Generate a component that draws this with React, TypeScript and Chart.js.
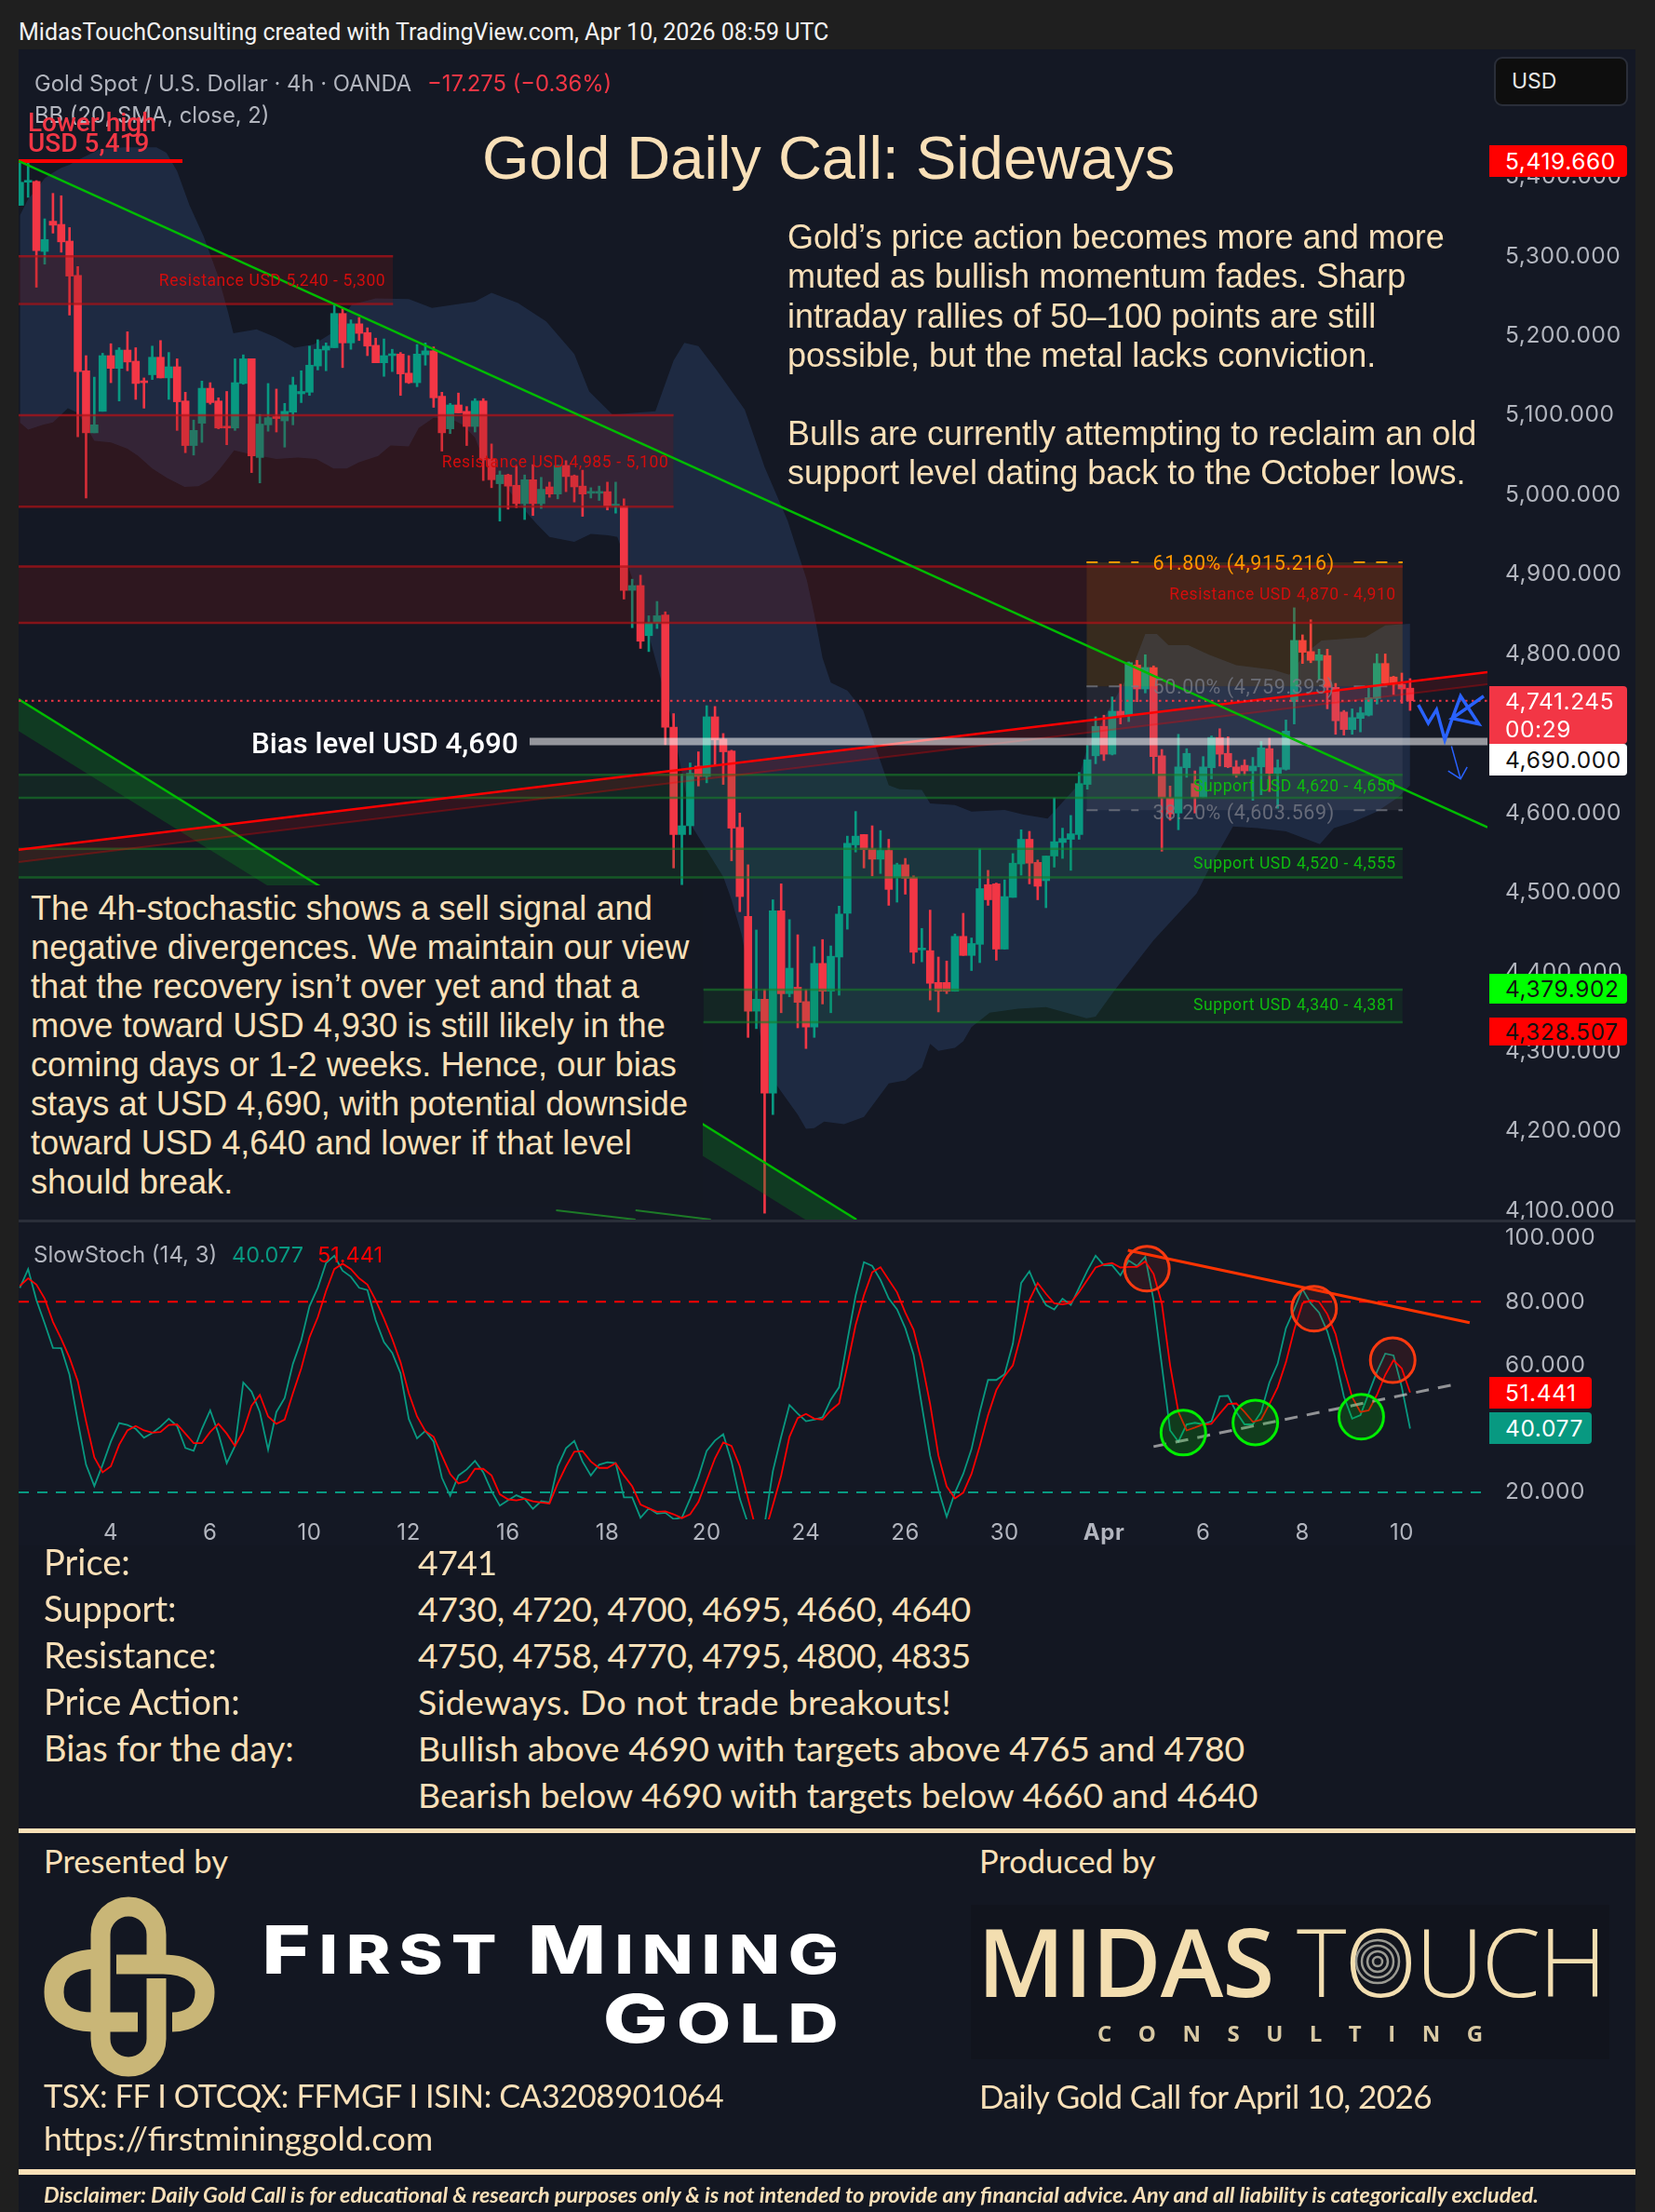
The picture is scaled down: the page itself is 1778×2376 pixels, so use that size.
import React, { useEffect, useRef } from "react";
import { Chart, registerables } from "chart.js";
Chart.register(...registerables);

// ---------- candles (4h Gold spot) ----------
const opens = [5364,5393,5394,5306,5344,5340,5319,5276,5156,5078,5105,5175,5159,5182,5168,5142,5151,5173,5147,5161,5118,5062,5090,5134,5118,5086,5084,5140,5171,5047,5088,5098,5093,5104,5127,5129,5162,5182,5185,5228,5191,5215,5204,5188,5166,5175,5177,5153,5141,5176,5181,5124,5083,5113,5105,5086,5118,5045,5014,5025,5012,4989,5019,4989,5010,5001,5037,5024,5011,5002,5002,5004,4986,4986,4880,4886,4823,4839,4849,4708,4573,4584,4659,4646,4721,4693,4678,4582,4470,4351,4366,4248,4477,4373,4381,4363,4331,4411,4376,4419,4474,4560,4573,4555,4542,4553,4519,4535,4519,4428,4427,4387,4387,4376,4445,4421,4435,4510,4511,4429,4494,4536,4567,4538,4515,4546,4563,4567,4573,4636,4672,4709,4674,4728,4723,4786,4756,4783,4672,4619,4600,4657,4637,4620,4657,4695,4675,4658,4660,4653,4658,4681,4650,4655,4740,4817,4803,4792,4798,4758,4727,4705,4719,4723,4744,4788,4771,4762,4757];
const closes = [5393,5395,5307,5321,5339,5318,5275,5155,5078,5088,5175,5159,5182,5167,5140,5141,5173,5147,5161,5117,5062,5081,5134,5116,5084,5084,5141,5171,5049,5089,5097,5096,5105,5138,5130,5163,5183,5187,5228,5191,5215,5203,5187,5166,5175,5177,5152,5141,5177,5181,5122,5078,5113,5103,5086,5118,5044,5019,5025,5011,4989,5019,4989,5007,5001,5037,5023,5010,5001,5004,5004,4986,4988,4880,4886,4816,4839,4848,4708,4573,4584,4650,4646,4721,4692,4677,4581,4495,4351,4366,4248,4477,4373,4405,4362,4331,4411,4376,4420,4473,4562,4571,4554,4542,4553,4504,4535,4518,4425,4429,4386,4376,4376,4445,4421,4436,4505,4491,4429,4495,4537,4567,4537,4508,4546,4564,4568,4574,4637,4667,4709,4674,4728,4722,4789,4756,4783,4671,4619,4599,4658,4675,4620,4658,4695,4674,4658,4648,4653,4659,4682,4650,4657,4703,4817,4802,4792,4799,4758,4716,4705,4720,4726,4745,4788,4763,4762,4756,4741.245];
const highs = [5419,5417,5395,5347,5379,5376,5336,5287,5175,5148,5178,5190,5185,5205,5185,5147,5187,5194,5179,5171,5129,5094,5143,5141,5122,5130,5171,5176,5171,5101,5140,5133,5115,5148,5156,5187,5195,5191,5239,5235,5220,5223,5210,5197,5196,5183,5179,5175,5189,5191,5186,5129,5115,5128,5111,5121,5121,5064,5030,5026,5036,5025,5038,5022,5016,5037,5043,5025,5031,5009,5011,5016,5016,4995,4894,4899,4848,4866,4853,4725,4649,4663,4677,4735,4734,4700,4679,4600,4535,4453,4378,4491,4511,4466,4447,4378,4432,4441,4433,4483,4571,4602,4573,4584,4578,4567,4537,4543,4521,4455,4478,4419,4414,4448,4474,4443,4555,4528,4512,4516,4549,4579,4577,4541,4546,4619,4581,4597,4651,4685,4721,4723,4746,4762,4790,4792,4799,4785,4680,4634,4699,4681,4653,4671,4697,4706,4696,4666,4667,4670,4690,4694,4667,4717,4858,4824,4843,4806,4806,4763,4729,4731,4733,4757,4800,4800,4772,4776,4769];
const lows = [5364,5374,5261,5290,5329,5305,5226,5073,4996,5078,5105,5141,5118,5156,5120,5109,5145,5147,5120,5081,5053,5050,5066,5114,5083,5063,5081,5139,5028,5015,5080,5079,5060,5088,5116,5125,5157,5156,5185,5160,5183,5194,5175,5166,5149,5155,5125,5140,5136,5163,5110,5055,5077,5103,5062,5079,5018,5009,4967,4982,4984,4969,4974,4983,4997,4995,5004,4991,4973,4996,4993,4981,4977,4869,4833,4807,4803,4832,4686,4531,4510,4573,4634,4638,4660,4636,4540,4476,4318,4329,4097,4221,4349,4369,4330,4304,4318,4360,4349,4371,4454,4551,4531,4521,4524,4484,4488,4498,4411,4413,4365,4350,4373,4376,4421,4402,4412,4484,4415,4429,4494,4522,4511,4491,4481,4532,4543,4528,4567,4630,4662,4666,4673,4712,4715,4740,4751,4649,4552,4591,4579,4645,4600,4620,4643,4659,4657,4645,4648,4616,4623,4627,4606,4654,4712,4788,4789,4768,4731,4699,4698,4699,4702,4722,4737,4761,4749,4738,4729];

// ---------- Bollinger band outline, read at irregular bars ----------
const upperBandAt = [0,1,2,3,4,5,6,7,9.6,12.5,16.5,17.7,19,20.5,22.2,24,25.2,25.8,28.6,30.9,33.2,35.5,37.8,40.1,43,47,49.8,55,57,60.2,63.6,67,68.8,71.6,76.8,79,80.3,82,84.2,87.6,90,92.8,94,95.1,96,97,98,100,101.9,103.3,105,106.3,109,110,113,115,119,121.3,124.2,127.6,129,132,134.5,136,137.4,138.8,141.2,143.7,147,151.5,153.4,155.4,157.3,162.6,165,168];
const upperBand = [5351,5372,5384,5398,5405,5411,5415,5421,5434,5437,5437,5430,5407,5364,5325,5274,5228,5203,5208,5198,5185,5189,5204,5239,5247,5246,5235,5243,5254,5241,5218,5177,5130,5101,5105,5169,5191,5187,5157,5107,5035,4967,4928,4893,4850,4795,4764,4754,4729,4686,4635,4630,4629,4612,4610,4602,4604,4598,4593,4632,4682,4737,4784,4825,4825,4811,4811,4799,4786,4780,4774,4801,4817,4821,4836,4838];
const lowerBandAt = [0,1,2.8,4,5.8,7,7.9,9,11,13,14.3,16,17.8,19.9,21.6,23,24.2,25.9,27.9,31,33.6,35.8,37.9,39.5,41,43.3,44.8,47,48.2,50,52,53.5,55,56,58,60.2,62.5,64,67,69,71.1,72.2,73,74.5,78.6,81.3,85,86,87.2,88,89.5,91.3,94,95,96,97.2,99.6,102,105,107,109,110,111,113,114,115,117.2,120.6,124,128.9,130,132.2,137,142.2,143.7,146.6,149.6,153,157.1,158.8,161.2,164,166.6,168];
const lowerBand = [5091,5082,5088,5091,5109,5103,5088,5068,5066,5058,5049,5033,5021,5010,5011,5019,5033,5056,5051,5045,5047,5045,5033,5033,5041,5049,5062,5061,5084,5097,5096,5088,5072,5045,5021,4990,4963,4947,4941,4951,4949,4947,4924,4881,4725,4582,4520,4491,4448,4405,4319,4260,4221,4203,4204,4212,4209,4218,4260,4264,4280,4310,4301,4305,4313,4331,4349,4354,4356,4342,4344,4376,4440,4499,4530,4583,4581,4577,4561,4581,4589,4602,4620,4635];

// ---------- horizontal zones ----------
const zoneStart = [-0.15,-0.15,-0.15,-0.15,-0.15,82.6];
const zoneEnd = [45.1,79,167.1,167.1,167.1,167.1];
const zoneTop = [5300,5100,4910,4648,4555,4378];
const zoneBottom = [5240,4985,4839,4619,4519,4337];
const zoneKind = ["r","r","r","g","g","g"];
const zoneLabels = ["Resistance USD 5,240 - 5,300","Resistance USD 4,985 - 5,100","Resistance USD 4,870 - 4,910","Support USD 4,620 - 4,650","Support USD 4,520 - 4,555","Support USD 4,340 - 4,381"];
const zoneLabelAt = [44.2,78.4,166.3,166.3,166.3,166.3];
const zoneLabelValue = [5268,5040,4873,4632,4535,4357];

// ---------- Fibonacci ----------
const fibStart = 128.9, fibGapA = 135.2, fibGapB = 161.2, fibEnd = 167.1;
const fibLevels = [4915.216,4759.393,4603.569];
const fibLabels = ["61.80% (4,915.216)","50.00% (4,759.393)","38.20% (4,603.569)"];
const fibLabelValue = [4912,4756,4599];
const fibLabelAt = 147.9;

// ---------- trend lines and drawings ----------
const axisLeft = -0.15, axisRight = 177.35;
const priceMin = 4087.8, priceMax = 5557.7;
const priceTicks = [4100,4200,4300,4400,4500,4600,4700,4800,4900,5000,5100,5200,5300,5400];
const mainGreen = [5419.66,4582];
const redChannelTop = [4554,4777];
const redChannelBottom = [4538.5,4762];
const leftGreenAt = [-0.15,101.1];
const leftGreenTop = [4743,4089];
const leftGreenBottom = [4703,4049];
const bottomLineAt = [[64.8,74.4],[74.4,83.5]];
const bottomLineVal = [4100.8,4089];
const biasLevel = 4690, biasStart = 61.6;
const lastPrice = 4741.245;
const lowerHigh = 5419.66, lowerHighEnd = 19.65;
const blueAt = [169,170.2,171.2,172.2,173.1,174.1,176.3,173.1,176.9];
const blueVal = [4736,4713,4730,4692,4719,4747,4712,4719,4747];
const arrowAt = [173,174.1];
const arrowVal = [4684,4643];
const arrowHeadAt = [172.6,174.1,174.9];
const arrowHeadVal = [4653,4643,4658];

// ---------- stochastic ----------
const stochK = [84.4,90.3,80.5,73.2,65.5,65.4,57,42.4,28.7,22,28.7,36,41.8,41.2,40,37.2,38.7,40.7,43.2,40.9,34,33.1,40,45.8,38.5,29.2,34.6,54.6,51.7,45.3,33.4,45.3,49.7,60.5,67.8,78.6,84.4,92.2,94.5,89.8,87.9,84.4,83.7,74.2,67.3,63.9,57.5,43.1,37,39.3,36,24.6,18.9,25.3,27.2,29.9,26.3,20.4,15.8,17.5,19.1,18,14.8,17.2,16.8,28.2,33.9,36.2,29.7,25.3,28.7,29.5,29.2,18.4,18.4,12,15,13.3,13.6,11.6,12,18,24.8,33.1,36.3,38.3,29.7,18,10.1,3.3,10,26.7,37.5,47.5,44.8,42.4,42.9,43.6,49.2,53.1,67.8,82,92.5,91.3,86.9,81,77.6,71.7,63.4,47.3,31.6,20.9,12.3,19.9,25.8,33.6,45.3,55.4,55.4,57.2,66.8,85.9,89.6,83.4,79,77.6,81,79,84.4,89.8,94.5,91.5,91.5,88.3,93,91.3,94.2,80.5,60,39.5,36,41.4,41.9,41.4,42.4,50.2,50.4,45.3,41.4,41.4,45.3,54.6,60.5,71.7,77.6,84,79.5,76.6,70.7,61.9,50.2,43.2,44.3,51.2,58,63.7,63.1,53.1,40.077];
const stochD = [85,87.4,85.4,81,73.7,68.3,62.4,55,42.4,31,26.3,28.2,35,39.5,40.9,39.5,38.8,39,41.2,41.4,38.5,35.5,35.5,39,41.6,38.5,34.6,39.3,47.3,50.7,43.9,41.6,42.9,51.2,59,68.8,75.1,83.4,90.3,92,90.3,87.4,85.4,80.5,74.7,68.3,61,51.2,43.9,39.3,37.5,31.6,25.8,22.8,23.6,27.4,27.4,25.3,19.4,17.8,17.5,18,17.2,16.8,16.5,22.8,28.2,32.8,33,29.7,27.7,27.7,29.2,25.3,21.9,16.2,15,13.9,14,13.1,11.9,13.1,17,23.8,30.7,35.7,34.6,28.2,18,8,7,16,25.3,37.5,43.4,44.7,43.2,42.9,45.8,48,60,72.7,82,89.3,90.9,86.9,83,76.6,71.2,61,47.8,31.6,21.9,18.1,19.9,25.8,34.6,44.3,52.2,56.6,60,69.8,80.5,85.9,82.5,79.5,79.2,79.7,83,86.9,90.8,91.8,92.2,90.8,91,91,92.7,88.8,79.5,60,45.3,39.5,40.4,41.4,41.6,44.8,47.8,48,45.3,42.2,42.9,47.8,53.1,61,71.2,79.5,80.5,80,76.1,69.8,59,50,45.3,45.8,50.7,57,61.6,59,51.441];
const stochMin = 11.5, stochMax = 105.3;
const stochTicks = [20,40,60,80,100];
const stochUpper = 80, stochLower = 20, stochDashEnd = 176.8;
const dateTickAt = [11,23,35,47,59,71,83,95,107,119,131,143,155,167];
const dateTickText = ["4","6","10","12","16","18","20","24","26","30","Apr","6","8","10"];
const stochRedLineAt = [133.9,175.2];
const stochRedLine = [96.2,73.4];
const stochGrayLineAt = [137,173.4];
const stochGrayLine = [34.4,54];
const redCircleAt = [136.2,156.4,165.9];
const redCircleVal = [90.4,77.8,61.6];
const greenCircleAt = [140.6,149.3,162.1];
const greenCircleVal = [38.8,42,43.8];

// ---------- page text ----------
const rightNote = ["Gold’s price action becomes more and more","muted as bullish momentum fades. Sharp","intraday rallies of 50–100 points are still","possible, but the metal lacks conviction."];
const rightNote2 = ["Bulls are currently attempting to reclaim an old","support level dating back to the October lows."];
const leftNote = ["The 4h-stochastic shows a sell signal and","negative divergences. We maintain our view","that the recovery isn’t over yet and that a","move toward USD 4,930 is still likely in the","coming days or 1-2 weeks. Hence, our bias","stays at USD 4,690, with potential downside","toward USD 4,640 and lower if that level","should break."];
const tableLabels = ["Price:","Support:","Resistance:","Price Action:","Bias for the day:",""];
const tableValues = ["4741","4730, 4720, 4700, 4695, 4660, 4640","4750, 4758, 4770, 4795, 4800, 4835","Sideways. Do not trade breakouts!","Bullish above 4690 with targets above 4765 and 4780","Bearish below 4690 with targets below 4660 and 4640"];
const tableSpacing = [-0.5,-0.5,-0.5,0.35,0,0];

const UP = "#089981", DOWN = "#F23645", GREY = "#b2b5be", CREAM = "#f9e0b8";
const AXIS_FONT = "Inter";

const line = (xs: number[], ys: number[], color: string, width: number, extra: any = {}) => ({
  type: "line", data: xs.map((x, i) => ({ x, y: ys[i] })), borderColor: color, borderWidth: width,
  pointRadius: 0, tension: 0, fill: false, order: 1, ...extra,
});

function priceDatasets() {
  const ds: any[] = [];
  ds.push(line(upperBandAt, upperBand, "rgba(0,0,0,0)", 0, { fill: "+1", backgroundColor: "rgba(88,145,243,0.15)", order: 20 }));
  ds.push(line(lowerBandAt, lowerBand, "rgba(0,0,0,0)", 0, { order: 20 }));
  const colors = closes.map((c, i) => (c >= opens[i] ? UP : DOWN));
  ds.push({ type: "bar", data: lows.map((l, i) => ({ x: i, y: [l, highs[i]] })), backgroundColor: colors, barThickness: 2, grouped: false, order: 10 });
  ds.push({ type: "bar", data: opens.map((o, i) => ({ x: i, y: [o, closes[i]] })), backgroundColor: colors, barThickness: 8, grouped: false, minBarLength: 2, order: 9 });
  zoneTop.forEach((t, i) => {
    const red = zoneKind[i] === "r";
    const edge = red ? "rgba(180,18,24,0.72)" : "rgba(24,125,40,0.62)";
    const fillC = red ? "rgba(125,20,17,0.25)" : "rgba(20,125,45,0.14)";
    const xs = [zoneStart[i], zoneEnd[i]];
    ds.push(line(xs, [t, t], edge, 2.5, { fill: "+1", backgroundColor: fillC, order: 5 }));
    ds.push(line(xs, [zoneBottom[i], zoneBottom[i]], edge, 2.5, { order: 5 }));
  });
  const fx = [fibStart, fibEnd];
  ds.push(line(fx, [fibLevels[0], fibLevels[0]], "rgba(0,0,0,0)", 0, { fill: "+1", backgroundColor: "rgba(255,152,0,0.15)", order: 6 }));
  ds.push(line(fx, [fibLevels[1], fibLevels[1]], "rgba(0,0,0,0)", 0, { fill: "+1", backgroundColor: "rgba(120,123,134,0.15)", order: 6 }));
  ds.push(line(fx, [fibLevels[2], fibLevels[2]], "rgba(0,0,0,0)", 0, { order: 6 }));
  fibLevels.forEach((v, i) => {
    const c = i === 0 ? "#ff9800" : "rgba(120,123,134,0.75)";
    ds.push(line([fibStart, fibGapA], [v, v], c, 2, { borderDash: [12, 12], order: 4 }));
    ds.push(line([fibGapB, fibEnd], [v, v], c, 2, { borderDash: [12, 12], order: 4 }));
  });
  ds.push(line([axisLeft, axisRight], redChannelTop, "#ff0000", 2.5, { fill: "+1", backgroundColor: "rgba(255,0,0,0.12)", order: 2 }));
  ds.push(line([axisLeft, axisRight], redChannelBottom, "rgba(255,0,0,0.3)", 2, { order: 2 }));
  ds.push(line(leftGreenAt, leftGreenTop, "#00bb00", 2.5, { fill: "+1", backgroundColor: "rgba(10,140,30,0.3)", order: 3 }));
  ds.push(line(leftGreenAt, leftGreenBottom, "rgba(0,0,0,0)", 0, { order: 3 }));
  bottomLineAt.forEach((xs) => ds.push(line(xs, bottomLineVal, "rgba(30,140,40,0.85)", 2, { order: 3 })));
  ds.push(line([axisLeft, axisRight], mainGreen, "#00bb00", 2.5, { order: 1 }));
  ds.push(line([axisLeft, lowerHighEnd], [lowerHigh, lowerHigh], "#ff0000", 4, { order: 1 }));
  ds.push(line([axisLeft, axisRight], [lastPrice, lastPrice], DOWN, 2, { borderDash: [2.5, 4.5], order: 1 }));
  ds.push(line([biasStart, axisRight], [biasLevel, biasLevel], "rgba(255,255,255,0.55)", 8, { order: 1 }));
  ds.push(line(blueAt, blueVal, "#2962ff", 3.5, { order: 0 }));
  ds.push(line(arrowAt, arrowVal, "#2962ff", 1.5, { order: 0 }));
  ds.push(line(arrowHeadAt, arrowHeadVal, "#2962ff", 1.5, { order: 0 }));
  return ds;
}

const axisSpacingPlugin = {
  id: "axisSpacing",
  beforeDraw(chart: any) { chart.ctx.letterSpacing = "0.6px"; },
};

const priceLabelPlugin = {
  id: "priceLabels",
  afterDatasetsDraw(chart: any) {
    const { ctx, scales: { x, y } } = chart;
    ctx.save();
    ctx.beginPath();
    ctx.rect(chart.chartArea.left, chart.chartArea.top, chart.chartArea.width, chart.chartArea.height);
    ctx.clip();
    ctx.textBaseline = "middle";
    ctx.font = "17.5px Roboto";
    ctx.letterSpacing = "0.6px";
    ctx.textAlign = "right";
    zoneLabels.forEach((t, i) => {
      ctx.fillStyle = zoneKind[i] === "r" ? "#d40d0d" : "#0fbb0f";
      ctx.fillText(t, x.getPixelForValue(zoneLabelAt[i]), y.getPixelForValue(zoneLabelValue[i]));
    });
    ctx.textAlign = "center";
    ctx.font = "21.5px Roboto";
    fibLabels.forEach((t, i) => {
      ctx.fillStyle = i === 0 ? "#ff9800" : "rgba(120,123,134,0.8)";
      ctx.fillText(t, x.getPixelForValue(fibLabelAt), y.getPixelForValue(fibLabelValue[i]));
    });
    ctx.restore();
  },
};

function stochDatasets() {
  return [
    line([axisLeft, stochDashEnd], [stochUpper, stochUpper], "#ff0000", 2, { borderDash: [11, 9], order: 5 }),
    line([axisLeft, stochDashEnd], [stochLower, stochLower], UP, 2, { borderDash: [11, 9], order: 5 }),
    line(stochK.map((_, i) => i), stochK, UP, 1.8, { order: 3 }),
    line(stochD.map((_, i) => i), stochD, "#ff0000", 1.8, { order: 2 }),
    line(stochRedLineAt, stochRedLine, "#ff3300", 3, { order: 1 }),
    line(stochGrayLineAt, stochGrayLine, "rgba(200,200,200,0.7)", 3, { borderDash: [14, 10], order: 1 }),
    { type: "bubble", data: redCircleAt.map((x, i) => ({ x, y: redCircleVal[i] })), radius: 24, borderWidth: 3, borderColor: "#ff3a10", backgroundColor: "rgba(255,40,20,0.1)", order: 0 },
    { type: "bubble", data: greenCircleAt.map((x, i) => ({ x, y: greenCircleVal[i] })), radius: 24, borderWidth: 3, borderColor: "#00f000", backgroundColor: "rgba(0,200,0,0.2)", order: 0 },
  ];
}

const fmt = (v: number) => v.toLocaleString("en-US", { minimumFractionDigits: 3, maximumFractionDigits: 3 });

function useChart(ref: any, build: () => any) {
  useEffect(() => {
    const c = new Chart(ref.current, build());
    return () => c.destroy();
  }, []);
}

const baseOptions: any = {
  responsive: false, animation: false, devicePixelRatio: 1,
  layout: { padding: 0, autoPadding: false },
  plugins: { legend: { display: false }, tooltip: { enabled: false } },
};

const T = ({ x, y, right, size, color, font, weight, italic, spacing, children }: any) => (
  <div style={{
    position: "absolute", left: x, right, top: y, transform: "translateY(-50%)", whiteSpace: "pre",
    fontSize: size, color, fontFamily: font, fontWeight: weight ?? 400, fontStyle: italic ? "italic" : "normal",
    letterSpacing: spacing, lineHeight: 1.2,
  }}>{children}</div>
);

const Tag = ({ y, h, w, bg, color, lines }: any) => (
  <div style={{
    position: "absolute", left: 1600, top: y, width: w ?? 148, height: h, background: bg, color,
    fontFamily: AXIS_FONT, fontSize: 24.5, letterSpacing: 0.6, borderRadius: "0 4px 4px 0", paddingLeft: 17, boxSizing: "border-box",
    display: "flex", flexDirection: "column", justifyContent: "center", lineHeight: "30px",
  }}>{lines.map((l: string) => <div key={l} style={{ whiteSpace: "pre" }}>{l}</div>)}</div>
);

export default function App() {
  const priceRef = useRef<HTMLCanvasElement>(null);
  const stochRef = useRef<HTMLCanvasElement>(null);

  useChart(priceRef, () => ({
    data: { datasets: priceDatasets() },
    plugins: [axisSpacingPlugin, priceLabelPlugin],
    options: {
      ...baseOptions,
      scales: {
        x: { type: "linear", min: axisLeft, max: axisRight, offset: false, display: false, grid: { display: false, offset: false } },
        y: {
          position: "right", min: priceMin, max: priceMax,
          grid: { display: false, drawTicks: false }, border: { display: false },
          afterFit: (a: any) => { a.width = 159; a.paddingTop = 0; a.paddingBottom = 0; },
          afterBuildTicks: (a: any) => { a.ticks = priceTicks.map((value) => ({ value })); },
          ticks: { padding: 19, color: GREY, font: { family: AXIS_FONT, size: 24.5 }, callback: (v: number) => fmt(v), autoSkip: false },
        },
      },
    },
  }));

  useChart(stochRef, () => ({
    data: { datasets: stochDatasets() },
    plugins: [axisSpacingPlugin],
    options: {
      ...baseOptions,
      scales: {
        x: {
          type: "linear", min: axisLeft, max: axisRight, offset: false,
          grid: { display: false, drawTicks: false, offset: false }, border: { display: false },
          afterFit: (a: any) => { a.height = 28; a.paddingLeft = 0; a.paddingRight = 0; },
          afterBuildTicks: (a: any) => { a.ticks = dateTickAt.map((value) => ({ value })); },
          ticks: {
            padding: 0, color: GREY, autoSkip: false, maxRotation: 0, minRotation: 0,
            font: (c: any) => ({ family: AXIS_FONT, size: 24, weight: c.tick && c.tick.label === "Apr" ? 700 : 400 }),
            callback: (v: number) => dateTickText[dateTickAt.indexOf(v)],
          },
        },
        y: {
          position: "right", min: stochMin, max: stochMax,
          grid: { display: false, drawTicks: false }, border: { display: false },
          afterFit: (a: any) => { a.width = 159; a.paddingTop = 0; a.paddingBottom = 0; },
          afterBuildTicks: (a: any) => { a.ticks = stochTicks.map((value) => ({ value })); },
          ticks: { padding: 19, color: GREY, font: { family: AXIS_FONT, size: 24.5 }, callback: (v: number) => fmt(v), autoSkip: false },
        },
      },
    },
  }));

  const serif = "'Liberation Sans'";
  const lato = "Lato";
  return (
    <div style={{ position: "absolute", left: 0, top: 0, width: 1778, height: 2376, overflow: "hidden", background: "#1f1f1f" }}>
      <div style={{ position: "absolute", left: 20, top: 53, width: 1737, height: 2323, background: "#141824" }} />
      <canvas ref={priceRef} width={1737} height={1256} style={{ position: "absolute", left: 20, top: 55 }} />
      <canvas ref={stochRef} width={1737} height={348} style={{ position: "absolute", left: 20, top: 1312 }} />
      <div style={{ position: "absolute", left: 20, top: 1310, width: 1737, height: 3, background: "#2a2e39" }} />

      <div style={{ position: "absolute", left: 30, top: 951, width: 725, height: 345, background: "#141823" }} />

      <T x={20} y={35} size={25} color="#f2f2f2" font="Roboto">MidasTouchConsulting created with TradingView.com, Apr 10, 2026 08:59 UTC</T>

      <T x={37} y={90} size={23.8} color={GREY} font={AXIS_FONT}>Gold Spot / U.S. Dollar · 4h · OANDA</T>
      <T x={459} y={90} size={23.8} color={DOWN} font={AXIS_FONT}>−17.275 (−0.36%)</T>
      <T x={37} y={124} size={23.8} color={GREY} font={AXIS_FONT}>BB (20, SMA, close, 2)</T>
      <T x={30} y={132} size={28} color={DOWN} font="Roboto" weight={500}>Lower high</T>
      <T x={30} y={154} size={28} color={DOWN} font="Roboto" weight={500}>USD 5,419</T>

      <div style={{ position: "absolute", left: 1605, top: 61, width: 144, height: 53, background: "#0e0e0e", border: "2px solid #2a2e39", borderRadius: 9, boxSizing: "border-box" }} />
      <T x={1624} y={88} size={23} color="#e8e8e8" font={AXIS_FONT}>USD</T>

      <T x={518} y={170} size={65} color={CREAM} font={serif}>Gold Daily Call: Sideways</T>
      {rightNote.map((l, i) => <T key={l} x={846} y={255 + i * 42.3} size={36} color={CREAM} font={serif}>{l}</T>)}
      {rightNote2.map((l, i) => <T key={l} x={846} y={466 + i * 42} size={36} color={CREAM} font={serif}>{l}</T>)}
      {leftNote.map((l, i) => <T key={l} x={33} y={976 + i * 42} size={36.2} color={CREAM} font={serif}>{l}</T>)}
      <T x={270} y={799} size={31.3} color="#fff" font="Roboto" weight={500}>Bias level USD 4,690</T>

      <Tag y={156} h={34} bg="#ff0000" color="#fff" lines={["5,419.660"]} />
      <Tag y={737} h={62} bg={DOWN} color="#fff" lines={["4,741.245", "00:29"]} />
      <Tag y={799} h={34} bg="#ffffff" color="#111" lines={["4,690.000"]} />
      <Tag y={1046} h={32} bg="#00ff00" color="#111" lines={["4,379.902"]} />
      <Tag y={1093} h={30} bg="#ff0000" color="#111" lines={["4,328.507"]} />
      <Tag y={1479} h={34} w={110} bg="#ff0000" color="#fff" lines={["51.441"]} />
      <Tag y={1517} h={34} w={110} bg={UP} color="#fff" lines={["40.077"]} />

      <T x={36} y={1348} size={24} color={GREY} font={AXIS_FONT}>SlowStoch (14, 3)</T>
      <T x={249} y={1348} size={23.5} color={UP} font={AXIS_FONT}>40.077</T>
      <T x={341} y={1348} size={23.5} color="#ff0000" font={AXIS_FONT}>51.441</T>

      <div style={{ position: "absolute", left: 20, top: 1660, width: 1737, height: 716, background: "#131722" }} />
      {tableLabels.map((l, i) => <T key={i} x={47} y={1678 + i * 50} size={38} color={CREAM} font={lato}>{l}</T>)}
      {tableValues.map((l, i) => <T key={l} x={449} y={1678 + i * 50} size={37.4} color={CREAM} font={lato} spacing={tableSpacing[i]}>{l}</T>)}

      <div style={{ position: "absolute", left: 20, top: 1964, width: 1737, height: 5, background: CREAM }} />
      <div style={{ position: "absolute", left: 20, top: 2330, width: 1737, height: 6, background: CREAM }} />
      <T x={47} y={1999} size={34.5} color={CREAM} font={lato}>Presented by</T>
      <T x={1052} y={1999} size={34.5} color={CREAM} font={lato}>Produced by</T>

      <svg width={1778} height={2376} style={{ position: "absolute", left: 0, top: 0, pointerEvents: "none" }}>
        <g fill="none" stroke="#c9b677" strokeWidth={21}>
          <path d="M168 2100 V2078 A30 30 0 0 0 108 2078 V2165" />
          <path d="M108 2104 C70 2104 58 2120 58 2140 C58 2162 75 2172 100 2172 H148" />
          <path d="M125 2110 H175 C205 2110 220 2125 220 2140 C220 2165 200 2172 185 2172" />
          <path d="M168 2125 V2190 A30 30 0 0 1 108 2190 V2178" />
        </g>
        <rect x={1043} y={2046} width={686} height={166} fill="#11141d" />
      </svg>

      <div style={{ position: "absolute", right: 868, top: 2052, color: "#fff", fontFamily: "Inter", fontWeight: 800, fontSize: 58, letterSpacing: 7, lineHeight: "84px", whiteSpace: "pre", transform: "scaleX(1.245)", transformOrigin: "right center" }}>
        <span style={{ fontSize: 72 }}>F</span>IRST <span style={{ fontSize: 72 }}>M</span>INING
      </div>
      <div style={{ position: "absolute", right: 868, top: 2126, color: "#fff", fontFamily: "Inter", fontWeight: 800, fontSize: 58, letterSpacing: 7, lineHeight: "84px", whiteSpace: "pre", transform: "scaleX(1.3)", transformOrigin: "right center" }}>
        <span style={{ fontSize: 72 }}>G</span>OLD
      </div>

      <T x={1050} y={2106} size={102} color="#f3deb0" font="'Open Sans'" weight={600} spacing={-1}>MIDAS</T>
      <T x={1393} y={2106} size={102} color="#f3deb0" font="'Open Sans'" weight={300} spacing={-2}>TOUCH</T>
      <svg width={1778} height={2376} style={{ position: "absolute", left: 0, top: 0, pointerEvents: "none" }}>
        <g fill="none" stroke="#9a9a92" strokeWidth={2.5}>
          <circle cx={1480} cy={2107} r={23} />
          <circle cx={1480} cy={2107} r={17} />
          <circle cx={1480} cy={2107} r={11} />
          <circle cx={1480} cy={2107} r={5} />
        </g>
      </svg>
      <T x={1179} y={2184} size={24} color="#d9c9a3" font="'Open Sans'" weight={700} spacing={28.5}>CONSULTING</T>

      <T x={47} y={2251} size={34.4} color={CREAM} font={lato} spacing={-0.4}>TSX: FF I OTCQX: FFMGF I ISIN: CA3208901064</T>
      <T x={47} y={2297} size={35.5} color={CREAM} font={lato}>https://firstmininggold.com</T>
      <T x={1052} y={2251} size={35} color={CREAM} font={lato} spacing={-0.6}>Daily Gold Call for April 10, 2026</T>
      <T x={47} y={2357} size={23.4} color={CREAM} font={lato} weight={700} italic>Disclaimer: Daily Gold Call is for educational &amp; research purposes only &amp; is not intended to provide any financial advice. Any and all liability is categorically excluded.</T>
    </div>
  );
}
